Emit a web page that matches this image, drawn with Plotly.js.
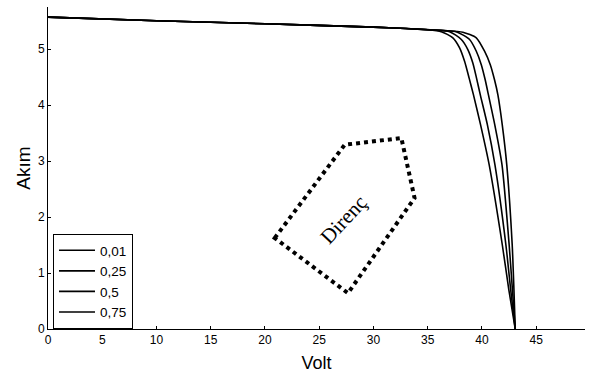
<!DOCTYPE html>
<html>
<head>
<meta charset="utf-8">
<script src="https://cdn.plot.ly/plotly-3.0.1.min.js"></script>
<style>html,body{margin:0;padding:0;background:#fff;}#chart{width:590px;height:376px;}</style>
</head>
<body>
<div id="chart"></div>
<script>
// Series names (series resistance values)
const seriesNames = ["0,01", "0,25", "0,5", "0,75"];

// Curve for Rs = 0,01 (outermost)
const voltRs001 = [0, 10, 20, 30, 33, 36.5, 38.24, 39.48, 40.24, 40.77, 41.16, 41.47, 41.87, 42.29, 42.79, 42.95, 43.07];
const currRs001 = [5.57, 5.505, 5.45, 5.39, 5.365, 5.33, 5.30, 5.20, 4.96, 4.72, 4.45, 4.18, 3.65, 2.93, 1.5, 0.7, 0];

// Curve for Rs = 0,25
const voltRs025 = [0, 10, 20, 30, 33, 36, 37.63, 38.86, 39.48, 39.94, 40.3, 40.6, 41.18, 41.85, 42.51, 42.81, 43.07];
const currRs025 = [5.57, 5.505, 5.45, 5.39, 5.365, 5.335, 5.31, 5.17, 4.96, 4.72, 4.45, 4.18, 3.65, 2.93, 1.5, 0.7, 0];

// Curve for Rs = 0,5
const voltRs05 = [0, 10, 20, 30, 33, 35.5, 37.02, 38.1, 38.7, 39.16, 39.5, 39.85, 40.5, 41.2, 42.21, 42.65, 43.07];
const currRs05 = [5.57, 5.505, 5.45, 5.39, 5.365, 5.34, 5.31, 5.17, 4.99, 4.75, 4.48, 4.18, 3.65, 2.93, 1.5, 0.7, 0];

// Curve for Rs = 0,75 (innermost)
const voltRs075 = [0, 10, 20, 30, 33, 35, 36.25, 37.32, 37.94, 38.4, 38.82, 39.22, 39.87, 40.67, 41.88, 42.48, 43.07];
const currRs075 = [5.57, 5.505, 5.45, 5.39, 5.365, 5.345, 5.31, 5.20, 5.02, 4.78, 4.48, 4.18, 3.65, 2.93, 1.5, 0.7, 0];

// Tick labels
const xTicks = [0, 5, 10, 15, 20, 25, 30, 35, 40, 45];
const yTicks = [0, 1, 2, 3, 4, 5];

// Dotted arrow outline (data coordinates) and its label
const arrowX = [20.9, 27.35, 32.57, 33.79, 27.65];
const arrowY = [1.625, 3.29, 3.41, 2.34, 0.64];
const arrowLabel = "Direnç";

const seriesX = [voltRs001, voltRs025, voltRs05, voltRs075];
const seriesY = [currRs001, currRs025, currRs05, currRs075];

const traces = seriesNames.map((n, i) => ({
  x: seriesX[i], y: seriesY[i], name: n, type: "scatter", mode: "lines",
  line: {color: "#000", width: 1.6, shape: "spline", smoothing: 0.6}
}));

let path = "M " + arrowX[0] + "," + arrowY[0];
for (let i = 1; i < arrowX.length; i++) path += " L " + arrowX[i] + "," + arrowY[i];
path += " Z";

const sans = "Liberation Sans, Arial, sans-serif";
const axisCommon = {
  showgrid: false, zeroline: false, showline: true, linecolor: "#000", linewidth: 1,
  ticks: "inside", ticklen: 3, tickcolor: "#000", tickwidth: 1,
  tickfont: {family: sans, size: 12, color: "#000"}
};

const layout = {
  width: 590, height: 376,
  margin: {l: 48, r: 5, t: 7, b: 47},
  paper_bgcolor: "#fff", plot_bgcolor: "#fff",
  showlegend: true,
  legend: {
    x: 0.0093, y: 0, xanchor: "left", yanchor: "bottom",
    bordercolor: "#000", borderwidth: 1, bgcolor: "#fff", itemwidth: 36,
    font: {family: sans, size: 13.5, color: "#000"}
  },
  xaxis: Object.assign({}, axisCommon, {
    range: [0, 49.5], tickvals: xTicks, ticktext: xTicks.map(String),
    title: {text: "Volt", font: {family: sans, size: 18, color: "#000"}, standoff: 9}
  }),
  yaxis: Object.assign({}, axisCommon, {
    range: [0, 5.75], tickvals: yTicks, ticktext: yTicks.map(String),
    title: {text: "Akım", font: {family: sans, size: 19, color: "#000"}, standoff: 2}
  }),
  shapes: [{
    type: "path", xref: "x", yref: "y", path: path,
    line: {color: "#000", width: 4, dash: "dot"}, fillcolor: "rgba(0,0,0,0)"
  }],
  annotations: [{
    x: 27.2, y: 1.95, xref: "x", yref: "y", text: arrowLabel, showarrow: false,
    textangle: -47, font: {family: "Liberation Serif, Times New Roman, serif", size: 21, color: "#000"}
  }]
};

Plotly.newPlot("chart", traces, layout, {displayModeBar: false, staticPlot: true});
</script>
</body>
</html>
